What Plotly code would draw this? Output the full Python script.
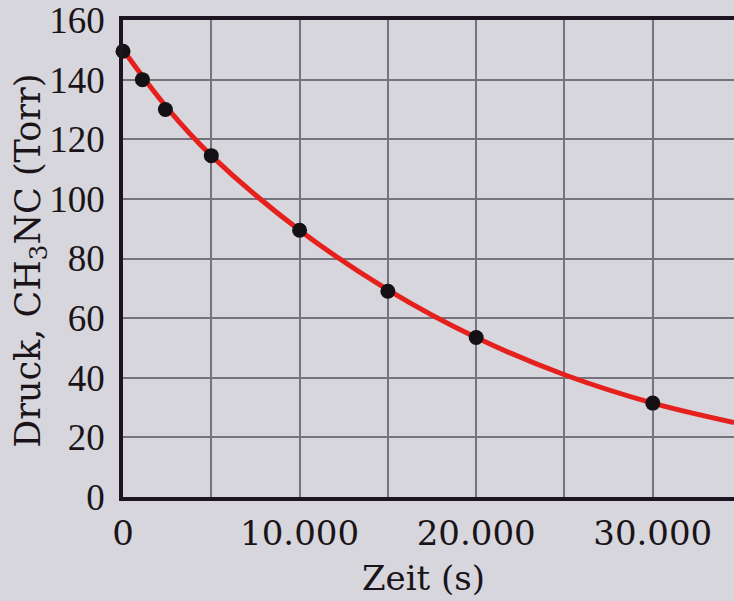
import plotly.graph_objects as go

# Measured data points (time in s, pressure in Torr)
zeit_s = [0, 1100, 2400, 5000, 10000, 15000, 20000, 30000]
druck_torr = [149.5, 140, 130, 114.5, 89.5, 69, 53.5, 31.5]

# Smooth fitted curve
kurve_zeit = [0, 2500, 5000, 10000, 15000, 20000, 25000, 30000, 34600]
kurve_druck = [150, 130.5, 114.5, 89.5, 69.5, 53.5, 41, 31.5, 25]

x_tickvals = [0, 10000, 20000, 30000]
x_ticktext = ["0", "10.000", "20.000", "30.000"]
y_tickvals = [0, 20, 40, 60, 80, 100, 120, 140, 160]
y_ticktext = ["0", "20", "40", "60", "80", "100", "120", "140", "160"]

paper = "#d6d6dc"
axis_col = "#1c1420"
grid_col = "#75747c"
text_col = "#1a1418"

fig = go.Figure()
fig.add_trace(go.Scatter(
    x=kurve_zeit, y=kurve_druck, mode="lines",
    line=dict(color="#e6211d", width=5, shape="spline", smoothing=1.0),
    hoverinfo="skip", showlegend=False,
))
fig.add_trace(go.Scatter(
    x=zeit_s, y=druck_torr, mode="markers",
    marker=dict(color="#141014", size=15),
    showlegend=False, cliponaxis=False,
))

fig.update_layout(
    width=734, height=601,
    margin=dict(l=123, r=0, t=20, b=104),
    paper_bgcolor=paper, plot_bgcolor=paper,
    font=dict(family="DejaVu Serif", color=text_col),
    annotations=[
        dict(text="Druck, CH<sub>3</sub>NC (Torr)",
             xref="paper", yref="paper", x=-0.1506, y=0.495,
             xanchor="center", yanchor="middle", textangle=-90,
             showarrow=False, font=dict(family="DejaVu Serif", size=35, color=text_col)),
        dict(text="Zeit (s)",
             xref="paper", yref="paper", x=0.491, y=-0.17,
             xanchor="center", yanchor="middle",
             showarrow=False, font=dict(family="DejaVu Serif", size=34, color=text_col)),
    ],
)
fig.update_xaxes(
    range=[0, 34600], tickvals=x_tickvals, ticktext=x_ticktext,
    showgrid=True, gridcolor=grid_col, gridwidth=1.5,
    minor=dict(dtick=5000, tick0=0, showgrid=True, gridcolor=grid_col, gridwidth=1.5, ticks=""),
    showline=True, linecolor=axis_col, linewidth=3.5, mirror=True,
    ticks="", ticklabelstandoff=3, zeroline=False,
    ticklabeloverflow="allow",
    tickfont=dict(family="DejaVu Serif", size=34),
)
fig.update_yaxes(
    range=[0, 160], tickvals=y_tickvals, ticktext=y_ticktext,
    showgrid=True, gridcolor=grid_col, gridwidth=1.5,
    showline=True, linecolor=axis_col, linewidth=3.5,
    ticks="", ticklabelstandoff=7, zeroline=False,
    ticklabeloverflow="allow",
    tickfont=dict(family="Liberation Serif", size=37),
)

fig.write_html("out.html")
